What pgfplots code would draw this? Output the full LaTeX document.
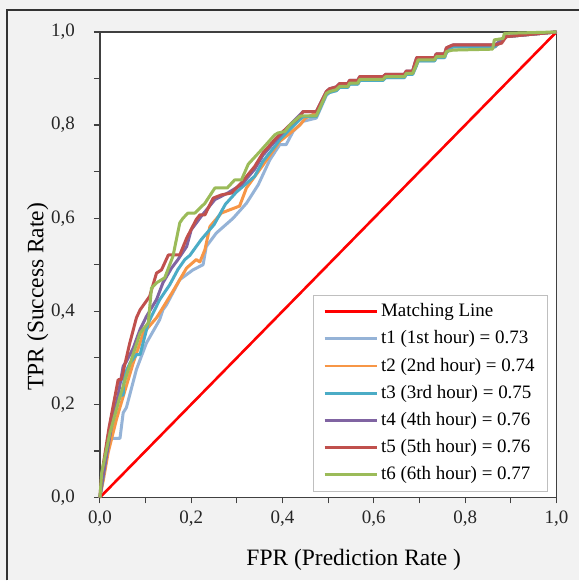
\documentclass[border=0pt]{standalone}
\usepackage{pgfplots}
\pgfplotsset{compat=1.18}
\usepackage{fontspec}
\setmainfont{Liberation Serif}

\definecolor{bgc}{HTML}{F2F2F2}
\definecolor{axc}{HTML}{404040}
\definecolor{cmatch}{HTML}{FF0000}
\definecolor{cone}{HTML}{95B3D7}
\definecolor{ctwo}{HTML}{F79646}
\definecolor{cthree}{HTML}{4BACC6}
\definecolor{cfour}{HTML}{8064A2}
\definecolor{cfive}{HTML}{C0504D}
\definecolor{csix}{HTML}{9BBB59}

\begin{document}
\begin{tikzpicture}
% page background and frame (1px = 0.5pt)
\fill[bgc] (-50pt,-41.5pt) rectangle (240pt,249pt);
\draw[black!80,line width=0.6pt] (-46.5pt,-41.5pt) -- (-46.5pt,244pt) -- (240pt,244pt);
\begin{axis}[
  scale only axis,width=228.5pt,height=233pt,
  xmin=0,xmax=1,ymin=0,ymax=1,
  xtick={0,0.2,...,1},ytick={0,0.2,...,1},
  minor x tick num=1,minor y tick num=1,
  xtick pos=left,ytick pos=left,tick align=outside,
  major tick length=3pt,minor tick length=3pt,
  every tick/.style={axc,line width=0.6pt},
  axis line style={axc,line width=0.75pt},
  axis background/.style={fill=white},
  clip=false,
  /pgf/number format/assume math mode=true,
  /pgf/number format/.cd,fixed,fixed zerofill,precision=1,use comma,/pgfplots/.cd,
  tick label style={font=\fontsize{9.5}{11}\selectfont,text=black!85},
  yticklabel style={xshift=-6pt},
  xticklabel style={yshift=0pt},
  label style={font=\fontsize{11.75}{13}\selectfont},
  xlabel={FPR (Prediction Rate )},
  ylabel={TPR (Success Rate)},
  xlabel style={at={(axis description cs:0.556,-0.134)},anchor=center},
  ylabel style={at={(axis description cs:-0.136,0.431)},anchor=center,rotate=0},
  legend cell align=left,
  legend image code/.code={\draw[#1] (0pt,0pt) -- (26pt,0pt);},
  legend style={at={(axis cs:0.466,0.436)},anchor=north west,
    draw=black!25,fill=white,line width=0.5pt,
    font=\fontsize{9.5}{11}\selectfont,
    inner xsep=5pt,inner ysep=2.5pt,row sep=1.9pt,
    nodes={inner xsep=1.5pt,inner ysep=1.8pt}},
  every axis plot/.append style={line width=1.5pt,line join=round},
]
\addplot[cmatch,line width=1.3pt] coordinates {(0,0)(1,1)};
\addlegendentry{Matching Line}
% t1
\addplot[cone] coordinates {(0,0)(0.004,0.030)(0.011,0.080)(0.022,0.124)(0.028,0.127)(0.044,0.127)(0.051,0.182)(0.058,0.193)(0.080,0.275)(0.102,0.332)(0.131,0.382)(0.138,0.403)(0.146,0.414)(0.175,0.468)(0.204,0.489)(0.226,0.500)(0.233,0.539)(0.255,0.568)(0.292,0.600)(0.321,0.632)(0.347,0.672)(0.372,0.725)(0.394,0.758)(0.408,0.758)(0.423,0.786)(0.445,0.808)(0.474,0.815)(0.496,0.864)(0.503,0.870)(0.518,0.874)(0.525,0.881)(0.543,0.881)(0.547,0.888)(0.565,0.888)(0.569,0.896)(0.620,0.896)(0.626,0.902)(0.667,0.902)(0.671,0.909)(0.685,0.909)(0.693,0.927)(0.697,0.938)(0.733,0.938)(0.737,0.945)(0.755,0.945)(0.759,0.956)(0.773,0.968)(0.865,0.968)(0.890,0.990)(1,1)};
\addlegendentry{t1 (1st hour) = 0.73}
% t2
\addplot[ctwo] coordinates {(0,0)(0.008,0.040)(0.018,0.096)(0.036,0.167)(0.051,0.217)(0.073,0.289)(0.095,0.353)(0.124,0.386)(0.135,0.403)(0.160,0.443)(0.190,0.493)(0.211,0.511)(0.219,0.506)(0.230,0.532)(0.241,0.582)(0.266,0.611)(0.306,0.626)(0.321,0.665)(0.347,0.700)(0.376,0.740)(0.394,0.765)(0.412,0.779)(0.438,0.800)(0.450,0.815)(0.474,0.826)(0.496,0.868)(0.503,0.872)(0.518,0.876)(0.525,0.883)(0.543,0.883)(0.547,0.890)(0.565,0.890)(0.569,0.898)(0.620,0.898)(0.626,0.904)(0.667,0.904)(0.671,0.911)(0.685,0.911)(0.693,0.929)(0.697,0.940)(0.733,0.940)(0.737,0.947)(0.755,0.947)(0.759,0.958)(0.773,0.968)(0.865,0.968)(0.890,0.990)(1,1)};
\addlegendentry{t2 (2nd hour) = 0.74}
% t3
\addplot[cthree] coordinates {(0,0)(0.008,0.050)(0.018,0.124)(0.030,0.180)(0.045,0.220)(0.051,0.220)(0.053,0.262)(0.066,0.289)(0.080,0.307)(0.088,0.307)(0.106,0.375)(0.131,0.425)(0.153,0.457)(0.171,0.490)(0.186,0.511)(0.197,0.520)(0.222,0.554)(0.250,0.586)(0.275,0.630)(0.299,0.656)(0.339,0.690)(0.357,0.722)(0.383,0.754)(0.395,0.770)(0.408,0.783)(0.438,0.812)(0.445,0.818)(0.474,0.818)(0.496,0.866)(0.503,0.870)(0.518,0.874)(0.525,0.881)(0.543,0.881)(0.547,0.888)(0.565,0.888)(0.569,0.896)(0.620,0.896)(0.626,0.902)(0.667,0.902)(0.671,0.909)(0.685,0.909)(0.693,0.927)(0.697,0.938)(0.733,0.938)(0.737,0.945)(0.755,0.945)(0.759,0.956)(0.773,0.968)(0.865,0.968)(0.890,0.990)(1,1)};
\addlegendentry{t3 (3rd hour) = 0.75}
% t4
\addplot[cfour] coordinates {(0,0)(0.006,0.040)(0.025,0.150)(0.040,0.220)(0.051,0.282)(0.058,0.292)(0.073,0.321)(0.088,0.361)(0.102,0.389)(0.124,0.425)(0.138,0.461)(0.157,0.493)(0.171,0.511)(0.190,0.539)(0.200,0.575)(0.222,0.604)(0.252,0.640)(0.280,0.654)(0.310,0.672)(0.339,0.705)(0.357,0.735)(0.386,0.768)(0.416,0.800)(0.445,0.829)(0.474,0.829)(0.496,0.872)(0.503,0.878)(0.518,0.882)(0.525,0.889)(0.543,0.889)(0.547,0.896)(0.565,0.896)(0.569,0.904)(0.620,0.904)(0.626,0.909)(0.667,0.909)(0.671,0.916)(0.685,0.916)(0.690,0.933)(0.694,0.945)(0.733,0.945)(0.737,0.953)(0.755,0.953)(0.759,0.966)(0.773,0.972)(0.865,0.972)(0.890,0.990)(1,1)};
\addlegendentry{t4 (4th hour) = 0.76}
% t5
\addplot[cfive] coordinates {(0,0)(0.004,0.050)(0.020,0.150)(0.040,0.253)(0.047,0.253)(0.065,0.330)(0.080,0.386)(0.088,0.403)(0.109,0.432)(0.124,0.482)(0.135,0.489)(0.150,0.521)(0.175,0.521)(0.190,0.557)(0.211,0.597)(0.219,0.607)(0.230,0.607)(0.248,0.643)(0.266,0.650)(0.288,0.654)(0.310,0.676)(0.339,0.711)(0.357,0.740)(0.386,0.772)(0.416,0.800)(0.438,0.818)(0.445,0.829)(0.474,0.829)(0.496,0.872)(0.503,0.878)(0.518,0.882)(0.525,0.889)(0.543,0.889)(0.547,0.896)(0.565,0.896)(0.569,0.904)(0.620,0.904)(0.626,0.909)(0.667,0.909)(0.671,0.916)(0.685,0.916)(0.690,0.933)(0.694,0.945)(0.733,0.945)(0.737,0.953)(0.755,0.953)(0.759,0.966)(0.773,0.972)(0.865,0.972)(0.880,0.976)(0.890,0.990)(1,1)};
\addlegendentry{t5 (5th hour) = 0.76}
% t6
\addplot[csix] coordinates {(0,0)(0.004,0.053)(0.022,0.139)(0.044,0.217)(0.069,0.296)(0.088,0.353)(0.106,0.375)(0.113,0.450)(0.124,0.461)(0.142,0.472)(0.160,0.518)(0.175,0.590)(0.182,0.600)(0.193,0.611)(0.208,0.611)(0.230,0.632)(0.252,0.665)(0.279,0.665)(0.295,0.682)(0.310,0.682)(0.325,0.716)(0.354,0.747)(0.383,0.779)(0.390,0.783)(0.405,0.786)(0.416,0.800)(0.438,0.819)(0.445,0.820)(0.474,0.820)(0.496,0.868)(0.503,0.872)(0.518,0.876)(0.525,0.883)(0.543,0.883)(0.547,0.890)(0.565,0.890)(0.569,0.898)(0.620,0.898)(0.626,0.904)(0.667,0.904)(0.671,0.911)(0.685,0.911)(0.693,0.929)(0.697,0.940)(0.733,0.940)(0.737,0.947)(0.755,0.947)(0.759,0.958)(0.773,0.961)(0.860,0.963)(0.864,0.983)(0.883,0.986)(0.886,0.997)(1,1)};
\addlegendentry{t6 (6th hour) = 0.77}
\end{axis}
\end{tikzpicture}
\end{document}
